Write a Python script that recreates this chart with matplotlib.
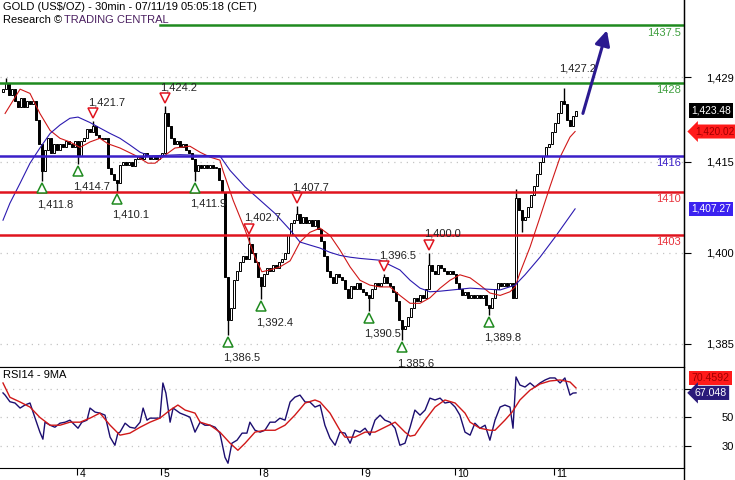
import pandas as pd
import matplotlib
matplotlib.use("Agg")
import matplotlib.pyplot as plt
from matplotlib.lines import Line2D
from matplotlib.transforms import offset_copy

plt.rcParams["font.family"] = ["Liberation Sans", "DejaVu Sans"]

# ---- data: gold, 30min bars, 3 to 11 July 2019 ----
close_d3 = [1427, 1428, 1426, 1427, 1425, 1424, 1425.5, 1424, 1425, 1424.5, 1425, 1422,
            1418, 1413.5, 1417, 1419, 1416.5, 1418, 1417, 1418, 1417.5, 1418.5, 1418,
            1417.5, 1418.5]
close_d4 = [1416, 1418.5, 1419, 1420.5, 1420, 1421, 1419.5, 1419, 1418.8, 1419, 1414,
            1413, 1412, 1411.5, 1414.5, 1415, 1414.5, 1415, 1414.3, 1415.5, 1416,
            1415.5, 1416.5, 1416, 1415.5, 1416, 1415.5, 1416]
close_d5 = [1416.5, 1423, 1421, 1419, 1418, 1418.5, 1417.5, 1418, 1417, 1416.5, 1415.5,
            1413.5, 1414.5, 1414, 1414.5, 1414, 1414.5, 1414, 1414, 1412, 1410, 1396,
            1389, 1391, 1395.5, 1397, 1398.5, 1399.5, 1399, 1401.5, 1400, 1398.5, 1396]
close_d8 = [1394.5, 1396.5, 1397.5, 1397, 1398, 1397.5, 1398.5, 1399, 1400, 1403, 1405,
            1405.5, 1406.5, 1405, 1406, 1405, 1405.5, 1404.5, 1405.5, 1404, 1402, 1399.5,
            1397, 1396, 1395, 1396.5, 1396, 1395.5, 1394, 1392.5, 1394.5, 1394, 1395, 1394]
close_d9 = [1393.5, 1393, 1392.5, 1394, 1395, 1394.5, 1395, 1396, 1395, 1394.5, 1393.5,
            1392, 1389, 1387.5, 1388, 1389.5, 1391, 1392.5, 1392, 1393, 1392.5, 1394,
            1398, 1397, 1396.5, 1398, 1397.5, 1397, 1396.5, 1397, 1396.5]
close_d10 = [1395, 1394, 1393, 1393.5, 1392.5, 1393, 1392.5, 1393, 1392.5, 1393, 1391.5,
             1391, 1392.5, 1394, 1395, 1394.5, 1395, 1394.5, 1395, 1392.5, 1409, 1407,
             1405.5, 1406, 1407.5, 1409.5, 1411, 1413, 1415, 1416, 1417.5, 1418, 1420]
close_d11 = [1421.5, 1423, 1425, 1424.5, 1422, 1421, 1422.5, 1423.48]
first_open = 1426.5

day_labels = ["4", "5", "8", "9", "10", "11"]
day_first_bar = [25, 53, 86, 120, 151, 184]

# labelled swing highs / lows (bar index, price, kind)
swing_bars = [13, 25, 30, 38, 54, 64, 75, 82, 86, 98, 122, 127, 133, 142, 162, 187]
swing_prices = [1411.8, 1414.7, 1421.7, 1410.1, 1424.2, 1411.9, 1386.5, 1402.7, 1392.4,
                1407.7, 1390.5, 1396.5, 1385.6, 1400.0, 1389.8, 1427.2]
swing_kind = ["L", "L", "H", "L", "H", "L", "L", "H", "L", "H", "L", "H", "L", "H", "L", "T"]
# other visible wicks
wick_bars = [1, 171, 173]
wick_prices = [1428.8, 1410.5, 1403.5]

# support / resistance levels
levels = [1437.5, 1428, 1416, 1410, 1403]
level_colors = ["#1f8a1f", "#1f8a1f", "#3a1fc8", "#e0141e", "#e0141e"]
level_text_colors = ["#3f9f3f", "#3f9f3f", "#3a1fc8", "#e8323c", "#e8323c"]

# moving averages (sampled along the curve)
ma_fast_bars = [0.7, 5.7, 9, 12.3, 15.7, 19, 22.3, 25.7, 29, 32.3, 35, 39, 44, 48.3, 50.7,
                54, 57.3, 62.3, 65.7, 69, 72.3, 73.3, 76.7, 80.7, 84, 86.3, 89, 92.3, 95.7,
                99, 102.3, 105.7, 109, 112.3, 115.7, 119, 122.3, 125.7, 129, 132.3, 135.7,
                139, 142.3, 145.7, 149, 152.3, 155.7, 159, 162.3, 165.7, 169, 170.7, 172.3,
                175.7, 179, 182.3, 185.7, 189, 190.7]
ma_fast_vals = [1423, 1427, 1426.3, 1423, 1420.2, 1418.9, 1418.3, 1417.4, 1418.3, 1418.9,
                1418, 1417.3, 1416.1, 1414.8, 1414.8, 1416.1, 1417.3, 1417.6, 1416.6,
                1415.8, 1415.3, 1413.6, 1408.7, 1403.8, 1399.3, 1396.9, 1397.2, 1397.7,
                1398.7, 1401.8, 1403.4, 1404.1, 1402.9, 1400.5, 1397.7, 1395.5, 1394.7,
                1394.4, 1394.4, 1393, 1391.7, 1391.7, 1392.6, 1394.2, 1395.5, 1396.4,
                1395.9, 1394.7, 1393.4, 1393, 1393.6, 1394.4, 1396.7, 1401, 1405.9,
                1410.9, 1415.8, 1419.1, 1420.02]
ma_slow_bars = [0, 2.3, 5.7, 9, 12.3, 15.7, 19, 22.3, 25, 29, 32.3, 35.7, 39, 42.3, 45.7,
                49, 59, 72.3, 75.7, 80.7, 85.7, 90.7, 95.7, 99, 102.3, 105.7, 109, 112.3,
                115.7, 119, 125.7, 132.3, 135.7, 139, 142.3, 145.7, 155.7, 165.7, 170.7,
                174, 179, 184, 187.3, 190.7]
ma_slow_vals = [1405.4, 1408.2, 1411.5, 1414.8, 1417.3, 1419.7, 1421.1, 1422.2, 1422.4,
                1421.5, 1420.6, 1419.7, 1418.9, 1417.8, 1416.6, 1416, 1416.2, 1416,
                1413.6, 1410.9, 1408.7, 1406.5, 1403.8, 1401.8, 1401.3, 1400.8, 1400.1,
                1399.6, 1399.3, 1399.1, 1398.8, 1397.2, 1395.5, 1394.2, 1393.6, 1393.7,
                1394.2, 1393.9, 1394.7, 1396.4, 1399.3, 1402.6, 1404.9, 1407.27]

# RSI(14) and its 9-period average
rsi_bars = [0, 0.7, 2.3, 4, 5.7, 7.3, 9, 10.7, 12.3, 13.3, 14, 15.7, 17.3, 19, 20.7, 22.3,
            24, 25, 26.3, 28, 29, 30.7, 32.3, 34, 35.7, 37.3, 38.3, 39, 40.7, 42.3, 44,
            45.7, 46.7, 48, 49, 50.7, 52.3, 53.3, 54.3, 55.7, 56.7, 59, 60.7, 62.3, 64,
            65.7, 67.3, 69, 70.7, 72.3, 74, 75, 76.3, 78, 79.7, 81.3, 82.3, 84, 85.7,
            87.3, 89, 90.7, 92.3, 94, 95.7, 97.3, 99, 100.7, 102.3, 104, 105.7, 107.3,
            109, 110.7, 112.3, 114, 115.7, 117.3, 119, 120.7, 122.3, 124, 125.7, 127.3,
            129, 130.7, 132.3, 134, 135.7, 137.3, 139, 140.7, 142.3, 144, 145.7, 147.3,
            149, 150.7, 152.3, 154, 155.7, 157.3, 159, 160.7, 162.3, 164, 165.7, 167.3,
            169, 170, 171, 172.3, 174, 175.7, 177.3, 179, 180.7, 182.3, 184, 185.7,
            187.3, 189, 190, 191]
rsi_vals = [67, 65.5, 60.9, 60, 56.5, 58.6, 60, 49.5, 39.8, 34.9, 46.7, 44.6, 43.2, 46,
            46.7, 48.1, 44.6, 42.5, 46.7, 48.1, 56.5, 53.7, 53, 51.6, 36.3, 30.7, 39.1,
            39.8, 46, 43.2, 42.5, 46.7, 56.5, 48.1, 49.5, 49.5, 49.5, 73.9, 66.9, 46.7,
            56.5, 53, 51.6, 50.2, 39.8, 46.7, 44.6, 44.6, 43.2, 39.1, 22.3, 18.2, 32.1,
            34.2, 39.1, 39.1, 46.7, 41.1, 39.8, 41.1, 46.7, 46.7, 49.5, 48.1, 60.7, 64.1,
            65.5, 60.7, 60.7, 57.2, 58.6, 44.6, 35.6, 30.7, 39.8, 39.1, 32.1, 41.1, 39.8,
            42.5, 37.7, 48.1, 51.6, 48.1, 46.7, 42.5, 30.7, 32.1, 43.2, 55.1, 51.6, 55.1,
            63.4, 62.1, 63.4, 60, 60.7, 57.2, 51.6, 39.8, 37.7, 46, 42.5, 44.6, 34.2,
            48.1, 57.2, 58.6, 57.2, 42.5, 78.1, 72.5, 71.1, 73.9, 71.1, 73.9, 76, 77.4,
            77.4, 73.9, 77.4, 65.5, 66.9, 67.048]
rsi_ma_bars = [0, 2.3, 5.7, 9, 12.3, 15.7, 19, 22.3, 25.7, 29, 32.3, 35.7, 39, 42.3, 45.7,
               49, 52.3, 55.7, 58.3, 60.7, 64, 65.7, 69, 72.3, 75.7, 78.3, 80.7, 84, 87.3,
               90.7, 94, 97.3, 100.7, 104, 105.7, 109, 112.3, 114, 117.3, 120.7, 124,
               127.3, 130.7, 134, 135.7, 137.3, 140.7, 144, 147.3, 150.7, 154, 155.7, 159,
               162.3, 164, 167.3, 169.7, 172.3, 175.7, 179, 182.3, 185.7, 189, 191]
rsi_ma_vals = [73.9, 64, 60.7, 57.2, 50, 44.6, 44.6, 46.7, 46.7, 49.5, 53, 44.6, 37.7,
               39.1, 43.2, 46.7, 49.5, 55.1, 58.6, 55.1, 53, 46.7, 44.6, 39.8, 32.1, 27.2,
               32.1, 39.8, 41.1, 41.1, 44.6, 51.6, 60, 62.1, 60.7, 53, 41.1, 36.3, 36.3,
               39.8, 39.8, 43.2, 46.7, 39.8, 37, 37.7, 48.1, 57.2, 62.1, 60, 53, 46.7,
               42.5, 41.1, 41.1, 48.1, 53.7, 62.1, 69, 73.2, 75.3, 76, 74.6, 70.4592]

# forecast arrow (bar, price)
arrow_from = (193.3, 1423.0)
arrow_to = (201.3, 1436.7)

# ---- build candles ----
closes = close_d3 + close_d4 + close_d5 + close_d8 + close_d9 + close_d10 + close_d11
df = pd.DataFrame({"close": closes})
df["open"] = df["close"].shift(1).fillna(first_open)
df["high"] = df[["open", "close"]].max(axis=1)
df["low"] = df[["open", "close"]].min(axis=1)
for b, p, k in zip(swing_bars, swing_prices, swing_kind):
    if k == "L":
        df.loc[b, "low"] = p
    else:
        df.loc[b, "high"] = p
for b, p in zip(wick_bars, wick_prices):
    df.loc[b, "high"] = max(df.loc[b, "high"], p)
    df.loc[b, "low"] = min(df.loc[b, "low"], p)

fig = plt.figure(figsize=(7.35, 4.8), dpi=100)
W, H = 735, 480
ax = fig.add_axes([0, (H - 367) / H, 684 / W, 367 / H])
ax2 = fig.add_axes([0, (H - 468) / H, 684 / W, 101 / H], sharex=ax)

# ---- price panel ----
ax.set_xlim(-1, 227)
ax.set_ylim(1381.2, 1441.7)

price_ticks = [1385, 1400, 1415, 1429]
ax.set_yticks(price_ticks)
ax.set_yticklabels([f"{t:,}" for t in price_ticks])
ax.grid(axis="y", color="#c4c4c4", linestyle=(0, (1, 4)), lw=0.9)

up = df["close"] >= df["open"]
ax.vlines(df.index, df["low"], df["high"], color="black", lw=1.0, zorder=2)
body = (df["close"] - df["open"]).abs().clip(lower=0.15)
ax.bar(df.index[up], body[up], bottom=df["open"][up], width=0.85,
       color="white", edgecolor="black", lw=0.7, zorder=3)
ax.bar(df.index[~up], body[~up], bottom=df["close"][~up], width=0.85,
       color="black", edgecolor="black", lw=0.7, zorder=3)

ax.plot(ma_fast_bars, ma_fast_vals, color="#d01818", lw=0.8, zorder=4)
ax.plot(ma_slow_bars, ma_slow_vals, color="#2c1ab0", lw=0.8, zorder=4)

for lvl, c, tc in zip(levels, level_colors, level_text_colors):
    xmin = 160 / 684 if lvl == levels[0] else 0
    ax.axhline(lvl, xmin=xmin, color=c, lw=1.8, zorder=5)
    ax.annotate(f"{lvl:g}", xy=(1, lvl), xycoords=("axes fraction", "data"),
                xytext=(-2, -1.5), textcoords="offset points", ha="right", va="top",
                color=tc, fontsize=8)

for b, p, k in zip(swing_bars, swing_prices, swing_kind):
    if k == "L":
        ax.plot(b, p, marker="^", ms=7.5, mfc="white", mec="#1f8a1f", mew=1.1,
                transform=offset_copy(ax.transData, fig=fig, y=-7, units="dots"), zorder=6)
        ty = -23
    else:
        if k == "H":
            ax.plot(b, p, marker="v", ms=7.5, mfc="white", mec="#e0141e", mew=1.1,
                    transform=offset_copy(ax.transData, fig=fig, y=8, units="dots"), zorder=6)
        ty = 19
    ax.text(b, p, f"{p:,.1f}", ha="left", va="center", fontsize=8, color="#222222",
            transform=offset_copy(ax.transData, fig=fig, x=-5, y=ty, units="dots"), zorder=6)

ax.annotate("", xy=arrow_to, xytext=arrow_from,
            arrowprops=dict(arrowstyle="-|>,head_length=0.9,head_width=0.45",
                            color="#2b1a90", lw=2.2, shrinkA=0, shrinkB=0), zorder=7)

ax.yaxis.tick_right()
ax.tick_params(axis="y", direction="out", length=5, labelsize=8, pad=31)
for lab in ax.get_yticklabels():
    lab.set_horizontalalignment("right")
ax.tick_params(axis="x", which="both", bottom=False, labelbottom=False)
for s in ["top", "left"]:
    ax.spines[s].set_visible(False)

# value boxes on the price scale
ytr = ax.get_yaxis_transform()
ax.text(1.011, df["close"].iloc[-1], f"{df['close'].iloc[-1]:,.2f}", transform=ytr,
        ha="left", va="center", fontsize=7.4, color="white",
        bbox=dict(boxstyle="square,pad=0.2", fc="black", ec="none"))
ax.text(1.016, ma_fast_vals[-1], f"{ma_fast_vals[-1]:,.2f}", transform=ytr,
        ha="left", va="center", fontsize=7.2, color="#a00000",
        bbox=dict(boxstyle="larrow,pad=0.2", fc="#ff1a1a", ec="none"))
ax.text(1.011, ma_slow_vals[-1], f"{ma_slow_vals[-1]:,.2f}", transform=ytr,
        ha="left", va="center", fontsize=7.4, color="white",
        bbox=dict(boxstyle="square,pad=0.2", fc="#3b22f0", ec="none"))

# ---- RSI panel ----
ax2.set_ylim(14.9, 85)
ax2.set_yticks([30, 50, 70])
ax2.set_yticklabels(["30", "50", ""])
ax2.grid(axis="y", color="#c4c4c4", linestyle=(0, (1, 4)), lw=0.9)
ax2.plot(rsi_bars, rsi_vals, color="#1c0e70", lw=1.0)
ax2.plot(rsi_ma_bars, rsi_ma_vals, color="#d01818", lw=1.0)
ax2.text(0.005, 0.92, "RSI14 - 9MA", transform=ax2.transAxes, fontsize=8, va="center")

ax2.yaxis.tick_right()
ax2.tick_params(axis="y", direction="out", length=5, labelsize=8, pad=31)
for lab in ax2.get_yticklabels():
    lab.set_horizontalalignment("right")
# day separators as major ticks, day names as minor tick labels just right of them
ax2.set_xticks([b - 0.5 for b in day_first_bar])
ax2.set_xticks([b + 0.5 for b in day_first_bar], minor=True)
ax2.set_xticklabels(day_labels, minor=True)
ax2.tick_params(axis="x", which="major", direction="out", length=5, labelbottom=False)
ax2.tick_params(axis="x", which="minor", length=0, labelsize=7.5, pad=0.5)
for lab in ax2.get_xticklabels(minor=True):
    lab.set_horizontalalignment("left")
ax2.spines["left"].set_visible(False)

ytr2 = ax2.get_yaxis_transform()
ax2.text(1.011, 77.5, f"{rsi_ma_vals[-1]:.4f}", transform=ytr2, ha="left", va="center",
         fontsize=7.6, color="#a00000",
         bbox=dict(boxstyle="square,pad=0.2", fc="#ff1a1a", ec="none"))
ax2.text(1.016, rsi_vals[-1], f"{rsi_vals[-1]:.3f}", transform=ytr2, ha="left",
         va="center", fontsize=7.6, color="white",
         bbox=dict(boxstyle="larrow,pad=0.2", fc="#2a1a7a", ec="none"))

# ---- header ----
fig.text(3 / W, 1 - 7 / H, r"GOLD (US\$/OZ) - 30min - 07/11/19 05:05:18 (CET)",
         fontsize=8, va="center")
fig.text(3 / W, 1 - 20 / H, "Research \u00a9", fontsize=8, va="center")
fig.text(64 / W, 1 - 20 / H, "TRADING CENTRAL", fontsize=8, va="center", color="#4a1f60")
fig.add_artist(Line2D([684 / W, 684 / W], [0, 1], transform=fig.transFigure,
                      color="black", lw=1))

fig.savefig("out.png", dpi=100)
